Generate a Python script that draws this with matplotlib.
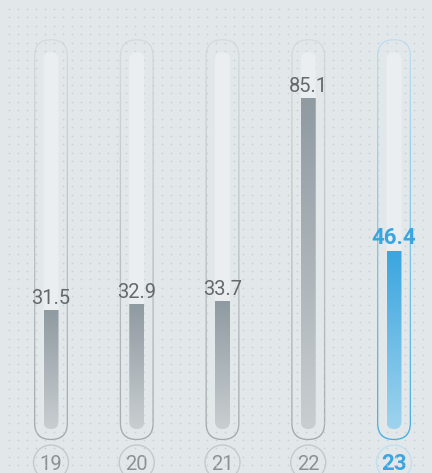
import numpy as np
import matplotlib.pyplot as plt
from matplotlib.patches import FancyBboxPatch, Circle
from matplotlib.colors import LinearSegmentedColormap

# readings per slot
days = ['19', '20', '21', '22', '23']
values = [31.5, 32.9, 33.7, 85.1, 46.4]
current = 4

W, H = 432, 473
fig = plt.figure(figsize=(W / 100, H / 100), dpi=100)
fig.patch.set_facecolor('#e2e7ea')

# pixel-space layer for the badges under the tubes
bg = fig.add_axes([0, 0, 1, 1])
bg.set_xlim(0, W)
bg.set_ylim(H, 0)
bg.axis('off')
bg.set_facecolor('#e2e7ea')

# data layer: index on x, value on y
ax = fig.add_axes([0, 0, 1, 1], zorder=2)
ax.patch.set_alpha(0)
ax.axis('off')
x0_px, step_px = 51, 85.75
y0_px, unit_px = 435.0, 3.955
ax.set_xlim(-x0_px / step_px, (W - x0_px) / step_px)
ax.set_ylim(-(H - y0_px) / unit_px, y0_px / unit_px)

px_x = 1 / step_px
px_y = 1 / unit_px
aspect = px_y / px_x


def capsule(xc, y_lo, y_hi, width_px, **kw):
    w = width_px * px_x
    return FancyBboxPatch((xc - w / 2, y_lo), w, y_hi - y_lo,
                          boxstyle=f'round,pad=0,rounding_size={w / 2}',
                          mutation_aspect=aspect, **kw)


def grad_fill(xc, width_px, y_lo, y_hi, c_top, c_bot, clip, z):
    cmap = LinearSegmentedColormap.from_list('g', [c_bot, c_top])
    w = width_px * px_x
    im = ax.imshow(np.linspace(0, 1, 256).reshape(-1, 1), cmap=cmap,
                   extent=[xc - w / 2, xc + w / 2, y_lo, y_hi],
                   origin='lower', aspect='auto', zorder=z,
                   interpolation='bilinear')
    im.set_clip_path(clip)


outer_lo, outer_hi = -1.3, 100.1
track_lo, track_hi = 1.5, 96.8

for i, (d, v) in enumerate(zip(days, values)):
    hot = i == current
    # outline ring: gradient under a background-filled inner capsule
    ring = capsule(i, outer_lo, outer_hi, 34, facecolor='none', edgecolor='none')
    ax.add_patch(ring)
    if hot:
        grad_fill(i, 36, outer_lo - 1, outer_hi + 1, '#c2def0', '#45aee2', ring, 1)
    else:
        grad_fill(i, 36, outer_lo - 1, outer_hi + 1, '#d6dbde', '#a3a9ad', ring, 1)
    inner = capsule(i, outer_lo + 1.3 * px_y, outer_hi - 1.3 * px_y, 31.4,
                    facecolor='#e2e7ea', edgecolor='none', zorder=1.5)
    ax.add_patch(inner)

    # track
    track = capsule(i, track_lo, track_hi, 15, facecolor='#eaeef1',
                    edgecolor='none', zorder=3)
    ax.add_patch(track)

    # filled bar
    if hot:
        grad_fill(i, 15, track_lo, v, '#3aa6df', '#9fd3ee', track, 4)
    else:
        grad_fill(i, 15, track_lo, v, '#8f9aa1', '#c9ced1', track, 4)

    ax.text(i, v + 0.7, f'{v}', ha='center', va='bottom', zorder=5,
            fontsize=16 if hot else 14.5, family='Roboto',
            color='#3aa6df' if hot else '#66696c',
            fontweight='bold' if hot else 'normal')

    # day badge
    cx = x0_px + i * step_px
    bg.add_patch(Circle((cx, 462.5), 17.5, facecolor='none', zorder=3,
                        edgecolor='#bfe0f2' if hot else '#c4c9cc', lw=1))
    bg.text(cx, 464, d, ha='center', va='center', zorder=4,
            fontsize=16 if hot else 14.5, family='Roboto',
            color='#3aa6df' if hot else '#8a9094',
            fontweight='bold' if hot else 'normal')

# dotted grid: above the ring fill, below the tracks and bars
gx, gy = np.meshgrid(np.arange(9, W, 9.0), np.arange(9, H, 8.45))
ax.scatter(gx.ravel(), gy.ravel(), marker='+', s=3, lw=0.5,
           color='#c6cdd2', alpha=0.8, zorder=2, transform=bg.transData)

fig.savefig('out.png', dpi=100)
